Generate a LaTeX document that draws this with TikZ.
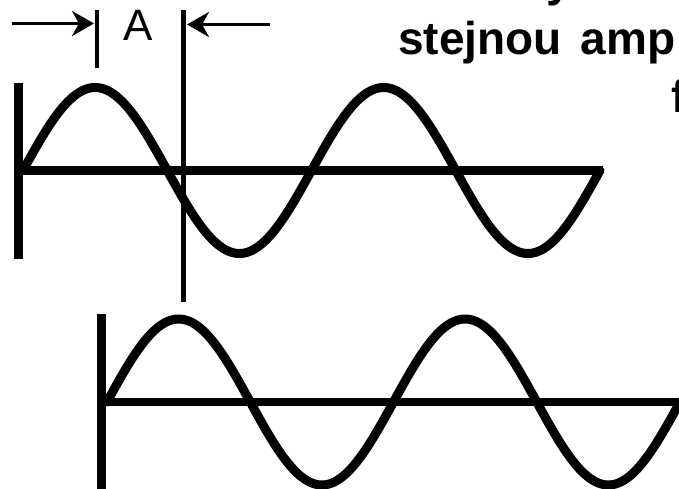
\documentclass[tikz,border=0pt]{standalone}
\usepackage{fontspec}
\setmainfont{Liberation Sans}
\usetikzlibrary{arrows.meta}
\tikzset{
  x=1pt, y=-1pt,
  axisline/.style={line width=8.5pt, line cap=butt},
  wave/.style={line width=9pt, line cap=round, line join=round},
  thinline/.style={line width=5pt, line cap=butt},
  arr/.style={line width=3.2pt, -{Stealth[length=22pt, width=25pt, inset=7pt]}},
  bigtxt/.style={font=\fontsize{46}{55}\selectfont\bfseries, inner sep=0pt, anchor=base west},
  lbl/.style={font=\fontsize{44}{50}\selectfont, inner sep=0pt}
}
\begin{document}
\begin{tikzpicture}
\path[use as bounding box] (0,0) rectangle (679,489);
\clip (0,0) rectangle (679,489);
\fill[white] (0,0) rectangle (679,489);
% partial title text
\node[bigtxt] (t1) at (546,-3) {y};
\node[bigtxt] (t2) at (398,55) {stejnou\hspace{6pt} amp};
\node[bigtxt] (t3) at (671,113) {f};
% named points
\coordinate (ta1) at (18.5,83);
\coordinate (ta2) at (18.5,259);
\coordinate (th1) at (14,170.5);
\coordinate (th2) at (603,170.5);
\coordinate (ba1) at (101.5,314);
\coordinate (ba2) at (101.5,492);
\coordinate (bh1) at (97,402);
\coordinate (bh2) at (682,402);
\coordinate (v1) at (183.5,10);
\coordinate (v2) at (183.5,302);
\coordinate (k1) at (97,10);
\coordinate (k2) at (97,68);
\coordinate (al1) at (12,23.5);
\coordinate (al2) at (94,23.5);
\coordinate (ar1) at (270,24.5);
\coordinate (ar2) at (187,24.5);
% top wave
\draw[axisline] (ta1) -- (ta2);
\draw[axisline] (th1) -- (th2);
\draw[wave] plot[domain=0:720, samples=241, smooth] ({23+\x*0.80139}, {170.5-83*sin(\x)});
% bottom wave
\draw[axisline] (ba1) -- (ba2);
\draw[axisline] (bh1) -- (bh2);
\draw[wave] plot[domain=0:720, samples=241, smooth] ({107+\x*0.79583}, {402-83*sin(\x)});
% phase marker
\draw[thinline] (v1) -- (v2);
\draw[line width=4.5pt] (k1) -- (k2);
\draw[arr] (al1) -- (al2);
\draw[arr] (ar1) -- (ar2);
\node[lbl] (A) at (138,25) {A};
\end{tikzpicture}
\end{document}
